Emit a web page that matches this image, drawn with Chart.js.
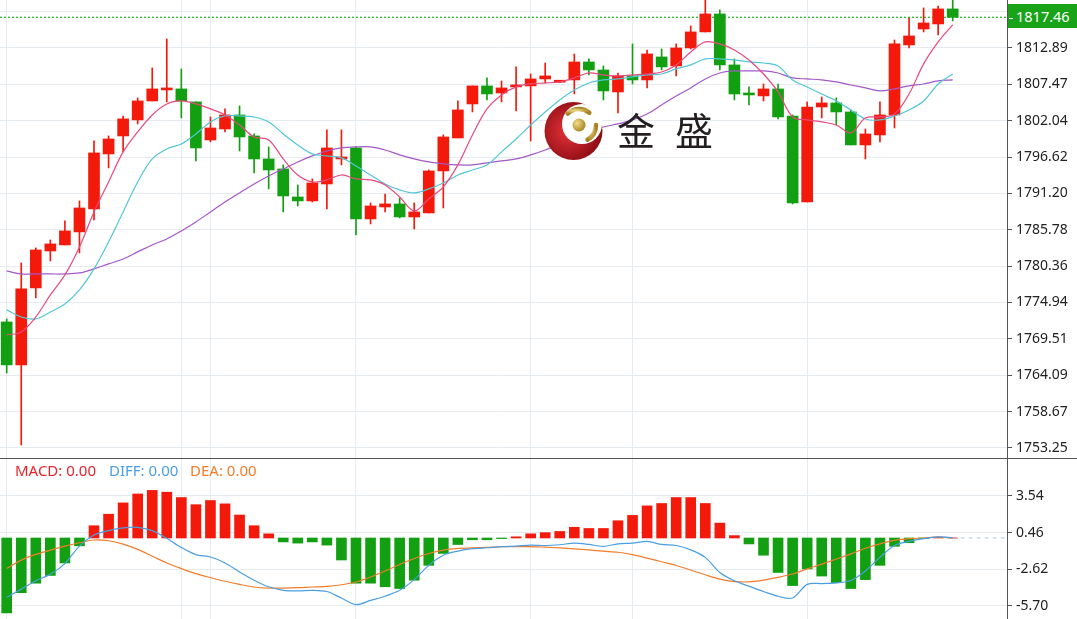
<!DOCTYPE html>
<html>
<head>
<meta charset="utf-8">
<script src="https://cdn.jsdelivr.net/npm/chart.js@4.4.1/dist/chart.umd.min.js"></script>
<style>
  html, body { margin: 0; padding: 0; background: #fff; }
  #wrap { position: relative; width: 1077px; height: 619px; overflow: hidden; font-family: 'Noto Sans', 'Open Sans', sans-serif; }
  #main { position: absolute; left: 0; top: 0; }
  #macd { position: absolute; left: 0; top: 459px; }
  .sep { position: absolute; left: 0; top: 458px; width: 1077px; height: 1px; background: #555; }
  .tag { position: absolute; left: 1008px; top: 4px; width: 69px; height: 24px; background: #19a319; color: #fff; font-size: 14.5px; line-height: 24px; }
  .tag i { display: inline-block; width: 4px; height: 1px; background: #fff; vertical-align: middle; margin: 0 3px 0 1px; }
  .leg { position: absolute; top: 461px; font-size: 15px; line-height: 18px; }
  .brand { position: absolute; left: 617px; top: 110px; font-family: 'Noto Sans CJK SC', sans-serif; font-size: 38px; line-height: 1; color: #231f20; letter-spacing: 20px; }
</style>
</head>
<body>
<div id="wrap">
  <canvas id="main" width="1077" height="459"></canvas>
  <canvas id="macd" width="1077" height="160"></canvas>
  <div class="sep"></div>
  <div class="tag"><i></i>1817.46</div>
  <div class="leg" style="left:15px;color:#e8242c">MACD: 0.00</div>
  <div class="leg" style="left:109px;color:#4a9fe3">DIFF: 0.00</div>
  <div class="leg" style="left:190px;color:#f27c2a">DEA: 0.00</div>
  <svg style="position:absolute;left:543px;top:100px" width="62" height="62" viewBox="0 0 62 62">
    <defs>
      <radialGradient id="rg" cx="0.4" cy="0.5" r="0.6">
        <stop offset="0" stop-color="#e4323a"/><stop offset="1" stop-color="#8a0c12"/>
      </radialGradient>
      <radialGradient id="gg" cx="0.35" cy="0.35" r="0.7">
        <stop offset="0" stop-color="#f4de8c"/><stop offset="1" stop-color="#a8821f"/>
      </radialGradient>
    </defs>
    <circle cx="30.5" cy="31" r="29" fill="url(#rg)"/>
    <circle cx="39" cy="24" r="20" fill="#fff"/>
    <path d="M24.7 13.7 A16 16 0 0 1 46.3 12.7" stroke="url(#gg)" stroke-width="4.5" fill="none" stroke-linecap="round"/>
    <path d="M53 25 A17 17 0 0 1 44.5 39.7" stroke="url(#gg)" stroke-width="4.5" fill="none" stroke-linecap="round"/>
    <circle cx="36" cy="25" r="6.5" fill="url(#gg)"/>
  </svg>
  <div class="brand">金盛</div>
</div>
<script>
// candles, oldest first (index 0 = left edge)
const opens = [
  1772.04, 1765.63, 1777.11, 1782.62, 1783.52, 1785.46, 1788.89, 1797.09, 1799.77, 1802.16,
  1804.99, 1806.63, 1806.78, 1804.84, 1799.17, 1800.81, 1802.90, 1799.77, 1796.34, 1794.85,
  1790.67, 1790.08, 1792.61, 1796.34, 1797.98, 1787.40, 1789.18, 1789.63, 1787.69, 1788.29,
  1794.55, 1799.47, 1804.54, 1807.23, 1806.18, 1807.08, 1807.23, 1808.27, 1807.78, 1808.12,
  1810.80, 1809.61, 1806.33, 1808.72, 1808.12, 1811.55, 1810.21, 1812.89, 1815.28, 1817.96,
  1810.36, 1806.03, 1805.74, 1806.78, 1802.75, 1789.93, 1804.09, 1804.69, 1803.35, 1798.43,
  1799.92, 1802.90, 1813.34, 1815.72, 1816.47, 1818.71
];
const closes = [
  1765.63, 1776.96, 1782.77, 1783.67, 1785.61, 1789.03, 1797.24, 1799.32, 1802.31, 1804.99,
  1806.78, 1806.78, 1804.99, 1797.98, 1800.96, 1802.90, 1799.62, 1796.34, 1794.70, 1790.82,
  1790.08, 1792.76, 1797.98, 1796.64, 1787.40, 1789.33, 1789.63, 1787.69, 1788.44, 1794.55,
  1799.62, 1803.65, 1807.23, 1806.03, 1806.93, 1807.38, 1808.27, 1808.72, 1807.86, 1810.80,
  1809.61, 1806.48, 1808.72, 1808.12, 1812.00, 1810.06, 1812.89, 1815.28, 1817.96, 1810.36,
  1806.03, 1805.88, 1806.78, 1802.60, 1789.78, 1804.09, 1804.69, 1803.35, 1798.43, 1800.07,
  1802.90, 1813.49, 1814.68, 1816.62, 1818.71, 1817.46
];
const highs = [
  1772.49, 1780.83, 1783.07, 1784.26, 1787.10, 1790.08, 1799.03, 1799.77, 1802.75, 1805.44,
  1809.91, 1814.23, 1809.76, 1804.84, 1802.60, 1803.80, 1804.24, 1800.07, 1798.13, 1795.45,
  1792.46, 1793.36, 1800.67, 1800.67, 1798.13, 1789.78, 1791.12, 1790.53, 1789.78, 1794.70,
  1799.92, 1804.99, 1807.23, 1808.42, 1807.97, 1810.06, 1809.01, 1810.65, 1807.95, 1811.99,
  1811.25, 1810.21, 1809.16, 1813.49, 1812.59, 1812.74, 1813.49, 1816.17, 1820.60, 1818.56,
  1811.25, 1807.08, 1807.52, 1807.52, 1802.90, 1804.84, 1805.58, 1805.44, 1803.65, 1800.81,
  1804.84, 1814.08, 1817.36, 1818.86, 1819.15, 1820.20
];
const lows = [
  1764.43, 1753.70, 1775.62, 1781.13, 1783.52, 1782.33, 1787.25, 1795.00, 1797.39, 1801.56,
  1804.99, 1804.84, 1802.45, 1796.04, 1798.88, 1800.37, 1797.53, 1794.25, 1791.87, 1788.44,
  1789.33, 1789.93, 1788.89, 1795.45, 1785.01, 1786.65, 1788.44, 1787.54, 1785.90, 1788.29,
  1789.03, 1799.47, 1803.35, 1805.14, 1804.84, 1803.50, 1799.02, 1807.67, 1807.70, 1806.03,
  1808.87, 1805.14, 1803.20, 1807.52, 1806.93, 1809.61, 1808.72, 1812.74, 1815.28, 1809.61,
  1805.14, 1804.39, 1804.99, 1802.30, 1789.63, 1789.93, 1802.45, 1801.41, 1798.43, 1796.34,
  1798.88, 1800.96, 1812.89, 1815.28, 1814.83, 1816.92
];
const ma5 = [
  1770.10, 1770.55, 1772.78, 1776.06, 1779.05, 1783.22, 1788.44, 1792.91, 1797.39, 1800.37,
  1802.90, 1804.54, 1804.99, 1804.54, 1803.80, 1802.90, 1801.41, 1799.62, 1799.17, 1796.34,
  1793.95, 1792.91, 1793.21, 1793.95, 1793.36, 1793.21, 1792.46, 1790.67, 1788.59, 1790.38,
  1792.17, 1795.45, 1799.92, 1803.80, 1805.88, 1807.08, 1807.52, 1807.67, 1807.82, 1808.42,
  1809.16, 1808.87, 1808.72, 1808.87, 1809.01, 1809.31, 1810.36, 1812.30, 1813.79, 1813.49,
  1812.59, 1811.10, 1809.01, 1806.33, 1802.60, 1802.16, 1801.86, 1801.41, 1800.22, 1802.45,
  1802.60, 1803.05, 1806.03, 1810.51, 1813.79, 1816.32
];
const ma10 = [
  1773.83, 1772.78, 1772.49, 1773.53, 1774.72, 1776.81, 1779.94, 1783.97, 1788.44, 1792.91,
  1796.34, 1797.83, 1798.58, 1800.07, 1801.86, 1802.75, 1802.75, 1802.60, 1801.86, 1800.07,
  1798.43, 1797.09, 1796.79, 1796.49, 1795.30, 1793.95, 1792.61, 1791.72, 1791.27, 1791.87,
  1792.76, 1793.95, 1794.70, 1795.45, 1797.39, 1799.32, 1801.41, 1803.35, 1805.14, 1806.63,
  1807.67, 1808.12, 1808.27, 1808.57, 1808.87, 1809.01, 1809.76, 1810.36, 1811.25, 1811.25,
  1811.10, 1810.80, 1810.65, 1810.21, 1808.12, 1807.08, 1806.03, 1804.99, 1803.65, 1802.30,
  1802.16, 1802.75, 1803.65, 1804.99, 1807.52, 1809.01
];
const ma20 = [
  1779.64, 1779.19, 1779.19, 1779.19, 1779.19, 1779.34, 1779.94, 1780.69, 1781.43, 1782.48,
  1783.52, 1784.41, 1785.61, 1786.95, 1788.44, 1789.93, 1791.27, 1792.61, 1793.81, 1794.85,
  1795.89, 1796.79, 1797.53, 1797.98, 1798.13, 1798.13, 1797.68, 1796.94, 1796.34, 1795.89,
  1795.60, 1795.45, 1795.45, 1795.75, 1796.04, 1796.34, 1796.94, 1797.68, 1798.58, 1799.47,
  1800.37, 1801.11, 1801.56, 1802.16, 1803.05, 1804.39, 1805.73, 1806.93, 1808.27, 1809.16,
  1809.46, 1809.46, 1809.46, 1809.16, 1808.42, 1808.27, 1808.12, 1807.82, 1807.37, 1806.93,
  1806.48, 1806.78, 1807.23, 1807.52, 1807.97, 1808.12
];
const macdHist = [
  -6.3, -4.6, -3.8, -3.15, -2.1, -0.66, 1.03, 2.0, 2.95, 3.7,
  4.0, 3.85, 3.4, 2.8, 3.15, 2.87, 1.93, 1.03, 0.35, -0.33,
  -0.43, -0.33, -0.6, -1.85, -3.8, -3.8, -4.1, -4.25, -3.55, -2.3,
  -1.3, -0.55, -0.15, -0.15, -0.05, 0.1, 0.35, 0.45, 0.55, 0.9,
  0.8, 0.8, 1.45, 1.9, 2.7, 2.9, 3.4, 3.4, 2.9, 1.25,
  0.2, -0.5, -1.45, -2.9, -4.0, -2.6, -3.2, -3.75, -4.25, -3.5,
  -2.3, -0.7, -0.4, -0.05, 0.05, 0
];
const diffLine = [
  -5.0, -4.3, -3.6, -3.05, -2.15, -0.68, 0.25, 0.62, 0.85, 0.9,
  0.62, -0.03, -0.8, -1.4, -1.6, -2.1, -2.85, -3.55, -4.1, -4.4,
  -4.45, -4.4, -4.5, -5.05, -5.6, -5.25, -4.9, -4.4, -3.5, -2.3,
  -1.45, -1.1, -0.9, -0.82, -0.73, -0.68, -0.6, -0.63, -0.57, -0.43,
  -0.54, -0.71, -0.49, -0.43, -0.29, -0.54, -0.63, -1.0, -1.63, -2.9,
  -3.6, -4.05, -4.5, -4.9, -5.05, -3.9, -3.83, -3.77, -3.57, -2.77,
  -1.63, -0.63, -0.29, -0.06, 0.09, 0.03
];
const deaLine = [
  -2.57, -1.86, -1.38, -1.02, -0.68, -0.4, -0.17, -0.23, -0.51, -0.96,
  -1.53, -2.1, -2.57, -3.0, -3.33, -3.64, -3.9, -4.12, -4.21, -4.21,
  -4.18, -4.12, -4.07, -3.93, -3.7, -3.28, -2.77, -2.23, -1.72, -1.3,
  -1.02, -0.88, -0.82, -0.79, -0.73, -0.73, -0.72, -0.77, -0.83, -0.91,
  -1.0, -1.11, -1.2, -1.4, -1.69, -2.0, -2.31, -2.69, -3.09, -3.46,
  -3.66, -3.69, -3.54, -3.31, -3.03, -2.6, -2.2, -1.77, -1.34, -0.86,
  -0.49, -0.2, -0.06, 0, 0.09, 0
];
const priceTicks = [1753.25, 1758.67, 1764.09, 1769.51, 1774.94, 1780.36, 1785.78, 1791.20, 1796.62, 1802.04, 1807.47, 1812.89, 1818.31];
const macdTicks = [3.54, 0.46, -2.62, -5.70];
const gridIdx = [0, 12, 14, 24, 36, 43, 55];
const lastPrice = 1817.46;

const RED = '#f3190b';
const GREEN = '#12a012';
const GRID = '#e6ebef';
const AXIS = '#555';
const X_MIN = -0.46, X_MAX = 68.73;

Chart.defaults.font.family = "'Noto Sans','Open Sans',sans-serif";
Chart.defaults.font.size = 14;
Chart.defaults.color = '#222';

const pts = (arr) => arr.map((v, i) => ({ x: i, y: v }));
const up = opens.map((o, i) => closes[i] >= o);
const candleColor = up.map((u) => (u ? RED : GREEN));

function xScale() {
  return {
    type: 'linear',
    min: X_MIN,
    max: X_MAX,
    bounds: 'data',
    offset: false,
    ticks: { display: false },
    grid: { color: GRID, drawTicks: false, offset: false },
    border: { display: false },
    afterBuildTicks: (s) => { s.ticks = gridIdx.map((v) => ({ value: v })); },
  };
}

function yScale(min, max, ticks) {
  return {
    position: 'right',
    min,
    max,
    bounds: 'data',
    ticks: { autoSkip: false, padding: 4, color: '#222', font: { size: 14 }, callback: (v) => Number(v).toFixed(2) },
    grid: { color: GRID, tickLength: 5, tickColor: AXIS },
    border: { display: true, color: AXIS },
    afterBuildTicks: (s) => { s.ticks = ticks.map((v) => ({ value: v })); },
    afterFit: (s) => { s.width = 70; s.paddingTop = 0; s.paddingBottom = 0; },
  };
}

const common = {
  responsive: false,
  animation: false,
  events: [],
  layout: { padding: 0 },
  plugins: { legend: { display: false }, tooltip: { enabled: false } },
};

new Chart(document.getElementById('main'), {
  type: 'bar',
  data: {
    datasets: [
      { type: 'line', data: pts(ma5), borderColor: '#e8497e', borderWidth: 1.2, pointRadius: 0, tension: 0.35, order: 0 },
      { type: 'line', data: pts(ma10), borderColor: '#52c6d6', borderWidth: 1.2, pointRadius: 0, tension: 0.35, order: 0 },
      { type: 'line', data: pts(ma20), borderColor: '#a458c8', borderWidth: 1.2, pointRadius: 0, tension: 0.35, order: 0 },
      {
        data: opens.map((o, i) => ({ x: i, y: [o, closes[i]] })),
        backgroundColor: candleColor,
        barThickness: 11,
        minBarLength: 2,
        grouped: false,
        order: 1,
      },
      {
        data: lows.map((l, i) => ({ x: i, y: [l, highs[i]] })),
        backgroundColor: candleColor,
        barThickness: 1,
        grouped: false,
        order: 2,
      },
      {
        type: 'line',
        data: [{ x: X_MIN, y: lastPrice }, { x: X_MAX, y: lastPrice }],
        borderColor: '#1fb51f',
        borderWidth: 1.2,
        borderDash: [2, 2],
        pointRadius: 0,
        order: 3,
      },
    ],
  },
  options: {
    ...common,
    scales: { x: xScale(), y: yScale(1751.60, 1820.04, priceTicks) },
  },
});

new Chart(document.getElementById('macd'), {
  type: 'bar',
  data: {
    datasets: [
      { type: 'line', data: pts(diffLine), borderColor: '#4a9fe3', borderWidth: 1.2, pointRadius: 0, tension: 0.3, order: 0 },
      { type: 'line', data: pts(deaLine), borderColor: '#f27c2a', borderWidth: 1.2, pointRadius: 0, tension: 0.3, order: 0 },
      {
        data: pts(macdHist),
        backgroundColor: macdHist.map((v) => (v >= 0 ? RED : GREEN)),
        barThickness: 10,
        grouped: false,
        order: 1,
      },
      {
        type: 'line',
        data: [{ x: macdHist.length - 1, y: 0 }, { x: X_MAX, y: 0 }],
        borderColor: '#a9cbe6',
        borderWidth: 1,
        borderDash: [4, 4],
        pointRadius: 0,
        order: 2,
      },
    ],
  },
  options: {
    ...common,
    scales: { x: xScale(), y: yScale(-6.81, 6.64, macdTicks) },
  },
});
</script>
</body>
</html>
